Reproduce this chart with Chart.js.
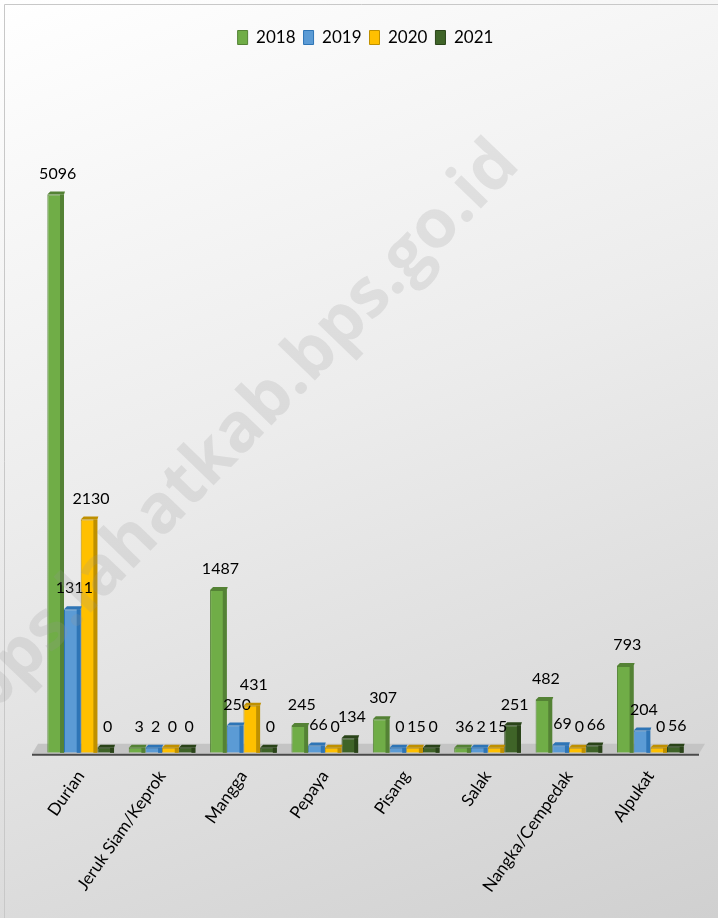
<!DOCTYPE html>
<html>
<head>
<meta charset="utf-8">
<script src="https://cdn.jsdelivr.net/npm/chart.js@4.4.0/dist/chart.umd.min.js"></script>
<style>
  html, body { margin: 0; padding: 0; }
  body {
    width: 718px; height: 918px; overflow: hidden;
    background: linear-gradient(160deg, #ffffff 0%, #ececec 45%, #d0d0d0 100%);
  }
  canvas { display: block; }
</style>
</head>
<body>
<canvas id="fruitChart" width="718" height="918"></canvas>
<script>
// data
const categories = ['Durian', 'Jeruk Siam/Keprok', 'Mangga', 'Pepaya', 'Pisang', 'Salak', 'Nangka/Cempedak', 'Alpukat'];
const years = ['2018', '2019', '2020', '2021'];
const data2018 = [5096, 3, 1487, 245, 307, 36, 482, 793];
const data2019 = [1311, 2, 250, 66, 0, 2, 69, 204];
const data2020 = [2130, 0, 431, 0, 15, 15, 0, 0];
const data2021 = [0, 0, 0, 134, 0, 251, 66, 56];

const colors = ['#70AD47', '#5B9BD5', '#FFC000', '#3F6428'];
const sides = ['#548235', '#2E75B6', '#BF9000', '#2A4419'];

// floor under the bars + thin frame
const floorPlugin = {
  id: 'floor',
  beforeDatasetsDraw(chart) {
    const { ctx, chartArea: a } = chart;
    ctx.save();
    ctx.strokeStyle = '#c8c8c8';
    ctx.lineWidth = 1;
    ctx.beginPath();
    ctx.moveTo(4.5, 918);
    ctx.lineTo(4.5, 4.5);
    ctx.lineTo(718, 4.5);
    ctx.stroke();

    ctx.fillStyle = '#c4c4c4';
    ctx.beginPath();
    ctx.moveTo(a.left - 2, a.bottom - 9);
    ctx.lineTo(a.right + 14, a.bottom - 9);
    ctx.lineTo(a.right + 8, a.bottom + 1);
    ctx.lineTo(a.left - 8, a.bottom + 1);
    ctx.closePath();
    ctx.fill();
    ctx.strokeStyle = '#4a4a4a';
    ctx.lineWidth = 2;
    ctx.beginPath();
    ctx.moveTo(a.left - 8, a.bottom + 2);
    ctx.lineTo(a.right + 8, a.bottom + 2);
    ctx.stroke();
    ctx.restore();
  }
};

// darker side + top cap to fake the 3D look, and value labels
const barLook = {
  id: 'barLook',
  afterDatasetsDraw(chart) {
    const ctx = chart.ctx;
    ctx.save();
    chart.data.datasets.forEach((ds, i) => {
      chart.getDatasetMeta(i).data.forEach((bar, j) => {
        const w = bar.width;
        const right = bar.x + w / 2;
        const top = bar.y;
        ctx.fillStyle = sides[i];
        ctx.fillRect(right - 4, top, 4, bar.base - top);
        ctx.beginPath();
        ctx.moveTo(bar.x - w / 2, top);
        ctx.lineTo(bar.x - w / 2 + 3, top - 3);
        ctx.lineTo(right + 1, top - 3);
        ctx.lineTo(right, top);
        ctx.closePath();
        ctx.fill();

        ctx.fillStyle = '#000';
        ctx.font = '16px Lato';
        ctx.textAlign = 'center';
        ctx.textBaseline = 'bottom';
        ctx.fillText(String(ds.data[j]), bar.x + 2, top - 13);
      });
    });
    ctx.restore();
  }
};

// watermark text
const watermark = {
  id: 'watermark',
  afterDraw(chart) {
    const ctx = chart.ctx;
    ctx.save();
    ctx.translate(242, 428);
    ctx.rotate(-46 * Math.PI / 180);
    ctx.font = 'bold 68px "Open Sans"';
    ctx.fillStyle = 'rgba(150,150,150,0.2)';
    ctx.textAlign = 'center';
    ctx.textBaseline = 'middle';
    ctx.fillText('bps.lahatkab.bps.go.id', 0, 0);
    ctx.restore();
  }
};

const ctx = document.getElementById('fruitChart').getContext('2d');
const allSeries = [data2018, data2019, data2020, data2021];

new Chart(ctx, {
  type: 'bar',
  data: {
    labels: categories,
    datasets: years.map((y, i) => ({
      label: y,
      data: allSeries[i],
      backgroundColor: colors[i],
      borderColor: sides[i],
      borderWidth: 1,
      minBarLength: 5,
      barPercentage: 1,
      categoryPercentage: 0.82
    }))
  },
  options: {
    responsive: false,
    animation: false,
    layout: { padding: { top: 21, left: 40, right: 27, bottom: 16 } },
    plugins: {
      legend: {
        labels: {
          boxWidth: 10, boxHeight: 14, color: '#000', padding: 8,
          font: { family: 'Lato', size: 17 }
        }
      },
      tooltip: { enabled: false }
    },
    scales: {
      x: {
        grid: { display: false },
        border: { display: false },
        ticks: { color: '#000', font: { family: 'Lato', size: 17 }, minRotation: 55, maxRotation: 55, padding: 6 }
      },
      y: { display: false, min: 0, max: 6360 }
    }
  },
  plugins: [floorPlugin, barLook, watermark]
});
</script>
</body>
</html>
